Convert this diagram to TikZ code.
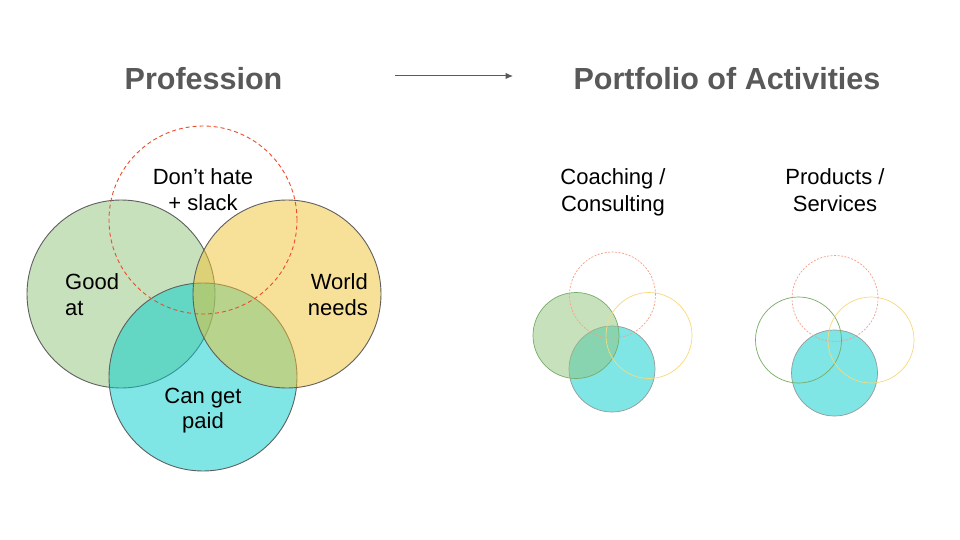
\documentclass[tikz,border=0pt]{standalone}
\usepackage{fontspec}
\setmainfont{Liberation Sans}
\usetikzlibrary{arrows.meta}
\definecolor{titlegray}{HTML}{595959}
\definecolor{vgreen}{HTML}{93C47D}
\definecolor{vgreenline}{HTML}{77AD66}
\definecolor{vyellow}{HTML}{F1C232}
\definecolor{vyellowline}{HTML}{F7D97E}
\definecolor{vcyan}{HTML}{00CCCC}
\definecolor{vred}{HTML}{EE4B2B}
\definecolor{vredlight}{HTML}{F6A088}
\definecolor{vline}{HTML}{5F5F5F}
\begin{document}
\begin{tikzpicture}[x=1pt,y=-1pt,
  bigc/.style={circle, inner sep=0pt, minimum size=188pt, draw=vline, line width=0.9pt},
  smallc/.style={circle, inner sep=0pt, minimum size=86pt, line width=0.7pt},
  title/.style={font=\bfseries\fontsize{30.5}{36}\selectfont, text=titlegray, anchor=base, inner sep=0pt},
  lbl/.style={font=\fontsize{22}{26}\selectfont, text=black, anchor=base, inner sep=0pt},
  arrowline/.style={draw=titlegray, line width=1pt, -{Latex[length=7.5pt,width=6.5pt]}}]
\path[fill=white] (0,0) rectangle (960,540);
\useasboundingbox (0,0) rectangle (960,540);

% titles and arrow
\node[title] (prof) at (203.5,90) {Profession};
\node[title] (port) at (727,90) {Portfolio of Activities};
\coordinate (a1) at (395,76);
\coordinate (a2) at (513,76);
\draw[arrowline] (a1) -- (a2);

% main venn
\node[bigc, fill=vgreen, fill opacity=0.5] (good) at (121,294) {};
\node[bigc, fill=vcyan, fill opacity=0.5] (paid) at (203,377) {};
\node[bigc, fill=vyellow, fill opacity=0.5] (world) at (287,294) {};
\node[bigc, draw=vred, dash pattern=on 4pt off 3pt] (hate) at (203,220) {};

\node[lbl] (hate1) at (203,184) {Don’t hate};
\node[lbl] (hate2) at (203,210) {+ slack};
\node[lbl, anchor=base west] (good1) at (65,289) {Good};
\node[lbl, anchor=base west] (good2) at (65,315) {at};
\node[lbl, anchor=base east] (world1) at (368,289) {World};
\node[lbl, anchor=base east] (world2) at (368,315) {needs};
\node[lbl] (paid1) at (203,403) {Can get};
\node[lbl] (paid2) at (203,428) {paid};

% small labels
\node[lbl] (coach1) at (613,185) {Coaching /};
\node[lbl] (coach2) at (613,211) {Consulting};
\node[lbl] (prod1) at (835,185) {Products /};
\node[lbl] (prod2) at (835,211) {Services};

% small venn 1
\node[smallc, fill=vcyan, fill opacity=0.5, draw=black!40] (c1) at (612,369) {};
\node[smallc, fill=vgreen, fill opacity=0.5, draw=vgreenline] (g1) at (576,335.5) {};
\node[smallc, draw=vyellowline] (y1) at (649,335.5) {};
\node[smallc, draw=vredlight, dash pattern=on 2pt off 1.5pt] (r1) at (612.5,295) {};

% small venn 2
\node[smallc, fill=vcyan, fill opacity=0.5, draw=black!40] (c2) at (834.5,373) {};
\node[smallc, draw=vgreenline] (g2) at (798.5,340) {};
\node[smallc, draw=vyellowline] (y2) at (871,340) {};
\node[smallc, draw=vredlight, dash pattern=on 2pt off 1.5pt] (r2) at (835,298.5) {};
\end{tikzpicture}
\end{document}
